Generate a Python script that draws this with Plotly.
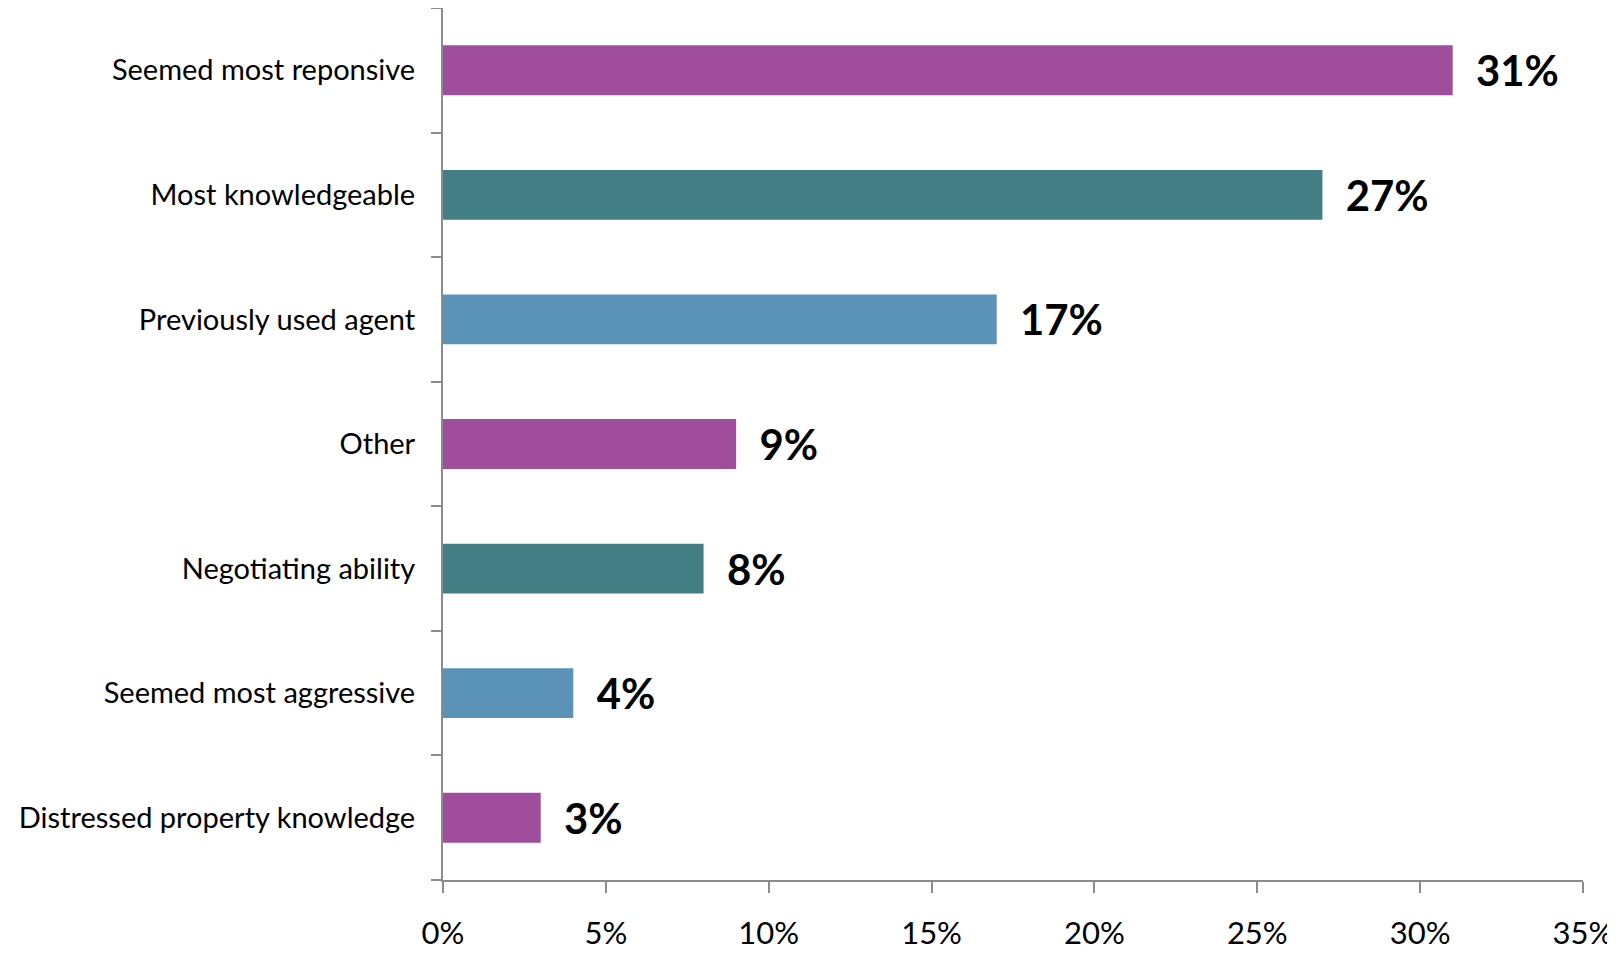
import plotly.graph_objects as go

categories = ["Seemed most reponsive", "Most knowledgeable", "Previously used agent",
              "Other", "Negotiating ability", "Seemed most aggressive",
              "Distressed property knowledge"]
values = [31, 27, 17, 9, 8, 4, 3]
colors = ["#A04D9E", "#437F85", "#5B92B7", "#A04D9E", "#437F85", "#5B92B7", "#A04D9E"]
tick_vals = [0, 5, 10, 15, 20, 25, 30, 35]
tick_text = [f"{v}%" for v in tick_vals]

FONT = "Lato"

fig = go.Figure(go.Bar(
    y=categories,
    x=values,
    orientation="h",
    marker=dict(color=colors, line=dict(width=0)),
    text=[f"  {v}%" for v in values],
    textposition="outside",
    textfont=dict(family=FONT, size=42, color="black", weight="bold"),
    cliponaxis=False,
))

# page body has an 8px default margin, so the figure is sized to fit the window
fig.update_layout(
    width=1607, height=946,
    margin=dict(l=435, r=32, t=0, b=74),
    paper_bgcolor="white", plot_bgcolor="white",
    bargap=0.6,
    showlegend=False,
    font=dict(family=FONT, color="black"),
)
fig.update_xaxes(
    range=[0, 35], tickvals=tick_vals, ticktext=tick_text,
    showgrid=False, zeroline=False, automargin=False,
    showline=True, linecolor="#8C8C8C", linewidth=2,
    ticks="outside", ticklen=11, tickwidth=2, tickcolor="#8C8C8C",
    tickfont=dict(family=FONT, size=31, color="black"),
    ticklabelstandoff=14,
)
fig.update_yaxes(
    categoryorder="array", categoryarray=categories[::-1],
    showgrid=False, zeroline=False, automargin=False,
    showline=True, linecolor="#8C8C8C", linewidth=2,
    ticks="outside", ticklen=10, tickwidth=2, tickcolor="#8C8C8C",
    tickson="boundaries",
    tickfont=dict(family=FONT, size=29, color="black"),
    ticklabelstandoff=20,
)

fig.write_html("out.html")
